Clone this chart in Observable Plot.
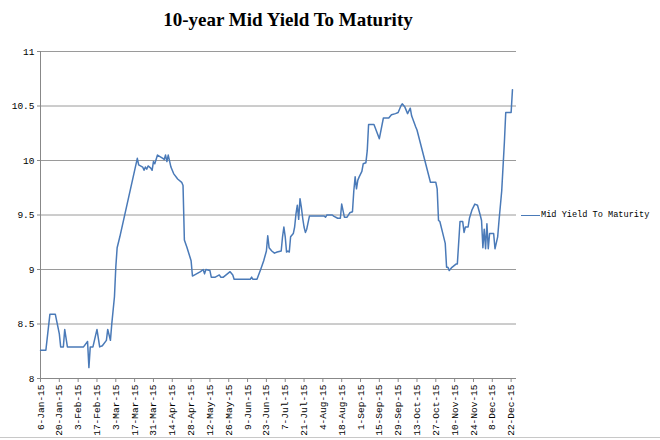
<!DOCTYPE html>
<html>
<head>
<meta charset="utf-8">
<script src="https://cdn.jsdelivr.net/npm/d3@7"></script>
<script src="https://cdn.jsdelivr.net/npm/@observablehq/plot@0.6"></script>
<style>
  html, body { margin: 0; padding: 0; background: #fff; }
  #page { position: relative; width: 660px; height: 440px; overflow: hidden; }
  #title { height: 40px; position: relative; }
  #title span { position: absolute; left: 288px; top: 9px; transform: translateX(-50%); font: bold 19px "Liberation Serif", serif; white-space: nowrap; color: #000; }
  #legend { position: absolute; left: 521px; top: 210px; display: flex; align-items: center; font: 8.6px "Liberation Mono", monospace; color: #000; white-space: nowrap; }
  #legend i { display: inline-block; width: 19px; height: 0; border-top: 1.5px solid #4a7ab8; margin-right: 1px; }
  #frame { position: absolute; left: 0; top: 437px; width: 660px; height: 0; border-top: 1px solid #c8c8c8; }
</style>
</head>
<body>
<div id="page">
  <div id="title"><span>10-year Mid Yield To Maturity</span></div>
  <div id="chart"></div>
  <div id="legend"><i></i><span>Mid Yield To Maturity</span></div>
  <div id="frame"></div>
</div>
<script>
const seriesName = "Mid Yield To Maturity";
const dates = [
"2015-01-06","2015-01-10","2015-01-13","2015-01-17","2015-01-20","2015-01-21","2015-01-23","2015-01-24","2015-01-26","2015-02-07",
"2015-02-10","2015-02-11","2015-02-12","2015-02-14","2015-02-17","2015-02-19","2015-02-21","2015-02-24","2015-02-25","2015-02-27",
"2015-02-28","2015-03-02","2015-03-03","2015-03-04","2015-03-06","2015-03-19","2015-03-20","2015-03-23","2015-03-24","2015-03-25",
"2015-03-26","2015-03-27","2015-03-29","2015-03-30","2015-03-31","2015-04-01","2015-04-03","2015-04-07","2015-04-08","2015-04-09",
"2015-04-10","2015-04-11","2015-04-13","2015-04-15","2015-04-18","2015-04-21","2015-04-22","2015-04-23","2015-04-25","2015-04-28",
"2015-04-29","2015-05-02","2015-05-05","2015-05-07","2015-05-08","2015-05-09","2015-05-12","2015-05-13","2015-05-16","2015-05-19",
"2015-05-20","2015-05-22","2015-05-27","2015-05-29","2015-05-30","2015-06-11","2015-06-12","2015-06-13","2015-06-16","2015-06-19",
"2015-06-21","2015-06-23","2015-06-24","2015-06-25","2015-06-27","2015-06-29","2015-07-01","2015-07-04","2015-07-05","2015-07-06",
"2015-07-07","2015-07-08","2015-07-09","2015-07-10","2015-07-11","2015-07-13","2015-07-14","2015-07-15","2015-07-16","2015-07-17",
"2015-07-18","2015-07-19","2015-07-20","2015-07-21","2015-07-22","2015-07-23","2015-07-25","2015-07-28","2015-08-05","2015-08-06",
"2015-08-07","2015-08-11","2015-08-12","2015-08-15","2015-08-17","2015-08-18","2015-08-20","2015-08-22","2015-08-24","2015-08-26",
"2015-08-27","2015-08-28","2015-08-29","2015-08-30","2015-08-31","2015-09-02","2015-09-03","2015-09-05","2015-09-06","2015-09-07",
"2015-09-11","2015-09-15","2015-09-18","2015-09-22","2015-09-24","2015-09-27","2015-09-29","2015-10-01","2015-10-02","2015-10-04",
"2015-10-06","2015-10-08","2015-10-09","2015-10-12","2015-10-13","2015-10-23","2015-10-27","2015-10-28","2015-10-29","2015-10-30",
"2015-11-01","2015-11-03","2015-11-04","2015-11-05","2015-11-06","2015-11-08","2015-11-11","2015-11-12","2015-11-14","2015-11-16",
"2015-11-17","2015-11-18","2015-11-20","2015-11-21","2015-11-23","2015-11-25","2015-11-27","2015-11-29","2015-11-30","2015-12-01",
"2015-12-02","2015-12-03","2015-12-04","2015-12-05","2015-12-06","2015-12-09","2015-12-10","2015-12-12","2015-12-13","2015-12-15",
"2015-12-17","2015-12-18","2015-12-22","2015-12-23"
];
const yields = [
8.26,8.26,8.59,8.59,8.41,8.29,8.29,8.45,8.29,8.29,
8.34,8.10,8.29,8.29,8.45,8.29,8.30,8.35,8.45,8.35,
8.50,8.75,9.02,9.20,9.30,10.02,9.96,9.94,9.91,9.94,
9.92,9.95,9.93,9.91,9.99,9.97,10.05,10.02,10.01,10.05,
9.99,10.05,9.94,9.88,9.83,9.80,9.77,9.27,9.20,9.08,
8.94,8.96,8.98,9.00,8.96,9.00,8.99,8.93,8.93,8.95,
8.93,8.93,8.98,8.95,8.91,8.91,8.93,8.91,8.91,9.01,
9.08,9.17,9.31,9.20,9.17,9.15,9.16,9.17,9.30,9.39,
9.30,9.16,9.17,9.16,9.30,9.33,9.39,9.51,9.59,9.46,
9.65,9.57,9.47,9.39,9.34,9.37,9.49,9.49,9.49,9.48,
9.50,9.50,9.49,9.47,9.47,9.60,9.48,9.48,9.52,9.53,
9.72,9.85,9.74,9.82,9.85,9.90,9.97,9.98,10.09,10.33,
10.33,10.20,10.39,10.39,10.42,10.43,10.44,10.50,10.52,10.49,
10.43,10.48,10.41,10.31,10.28,9.80,9.80,9.74,9.45,9.44,
9.34,9.24,9.02,9.02,8.99,9.02,9.05,9.05,9.44,9.44,
9.34,9.39,9.39,9.47,9.55,9.60,9.59,9.50,9.45,9.20,
9.37,9.19,9.42,9.19,9.33,9.33,9.19,9.30,9.45,9.72,
10.17,10.44,10.44,10.65
];
const tickLabels = ["6-Jan-15","20-Jan-15","3-Feb-15","17-Feb-15","3-Mar-15","17-Mar-15","31-Mar-15","14-Apr-15","28-Apr-15","12-May-15","26-May-15","9-Jun-15","23-Jun-15","7-Jul-15","21-Jul-15","4-Aug-15","18-Aug-15","1-Sep-15","15-Sep-15","29-Sep-15","13-Oct-15","27-Oct-15","10-Nov-15","24-Nov-15","8-Dec-15","22-Dec-15"];
const yTicks = [8, 8.5, 9, 9.5, 10, 10.5, 11];
const xStart = "2015-01-06";
const xEnd = "2015-12-26";

const parseISO = d3.utcParse("%Y-%m-%d");
const parseLabel = d3.utcParse("%d-%b-%y");
const data = dates.map((d, i) => ({date: parseISO(d), value: yields[i]}));
const tickDates = tickLabels.map(parseLabel);
const fmt = d3.utcFormat("%-d-%b-%y");

const chart = Plot.plot({
  width: 660,
  height: 400,
  marginTop: 11,
  marginBottom: 62,
  marginLeft: 40,
  marginRight: 144,
  style: {fontFamily: "'Liberation Mono', monospace", fontSize: "9.5px", color: "#000", background: "#fff", overflow: "visible"},
  x: {type: "utc", domain: [parseISO(xStart), parseISO(xEnd)]},
  y: {domain: [8, 11]},
  marks: [
    Plot.gridY(yTicks.slice(1), {stroke: "#9a9a9a", strokeOpacity: 1}),
    Plot.ruleX([parseISO(xStart)], {stroke: "#888"}),
    Plot.ruleY([8], {stroke: "#888"}),
    Plot.axisY(yTicks, {tickSize: 3, tickPadding: 3, stroke: "#888", fill: "#000", tickFormat: d => String(d), label: null}),
    Plot.axisX(tickDates, {tickSize: 4, tickPadding: 2, tickRotate: -90, stroke: "#888", fill: "#000", tickFormat: fmt, label: null}),
    Plot.line(data, {x: "date", y: "value", stroke: "#4a7ab8", strokeWidth: 1.5})
  ]
});
document.getElementById("chart").appendChild(chart);
</script>
</body>
</html>
